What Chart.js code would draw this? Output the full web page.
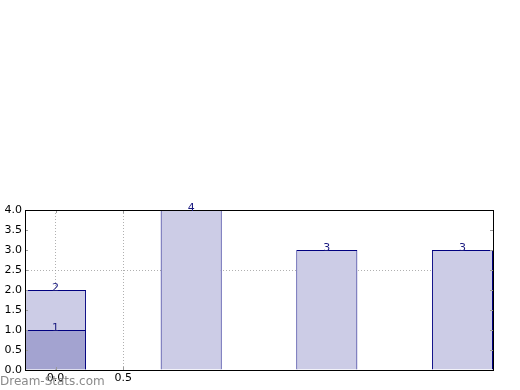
<!DOCTYPE html>
<html><head><meta charset="utf-8">
<script src="https://cdn.jsdelivr.net/npm/chart.js@4/dist/chart.umd.min.js"></script>
<style>html,body{margin:0;padding:0;background:#fff}</style>
</head><body>
<canvas id="c" width="520" height="390" style="display:block;width:520px;height:390px"></canvas>
<script>
const xPositions = [0, 1, 2, 3];
const barValues = [2, 4, 3, 3];
const overlayPositions = [0];
const overlayValues = [1];
const xTickValues = [0, 0.5];
const yTickValues = [0, 0.5, 1, 1.5, 2, 2.5, 3, 3.5, 4];
const xGridValues = [0, 0.5];
const yGridValues = [2.5];
const watermarkText = 'Dream-Stats.com';

const FONT = 'DejaVu Sans';
const gridGray = 'rgba(150,150,150,0.75)';

const overlayPlugin = {
  id: 'overlay',
  afterDraw(chart) {
    const ctx = chart.ctx;
    const a = chart.chartArea;
    const xs = chart.scales.x, ys = chart.scales.y;
    ctx.save();
    // inner tick marks
    ctx.strokeStyle = '#999';
    ctx.lineWidth = 1;
    ctx.beginPath();
    yTickValues.forEach(v => {
      const y = Math.round(ys.getPixelForValue(v)) + 0.5;
      ctx.moveTo(a.left, y); ctx.lineTo(a.left + 3, y);
      ctx.moveTo(a.right, y); ctx.lineTo(a.right - 3, y);
    });
    xTickValues.forEach(v => {
      const x = Math.round(xs.getPixelForValue(v)) + 0.5;
      ctx.moveTo(x, a.bottom); ctx.lineTo(x, a.bottom - 3);
      ctx.moveTo(x, a.top); ctx.lineTo(x, a.top + 3);
    });
    ctx.stroke();
    // frame
    ctx.strokeStyle = '#000';
    ctx.strokeRect(Math.round(a.left) + 0.5, Math.round(a.top) + 0.5,
                   Math.round(a.right - a.left), Math.round(a.bottom - a.top));
    // value labels
    ctx.fillStyle = '#1a1a80';
    ctx.font = '11px ' + FONT;
    ctx.textAlign = 'center';
    ctx.textBaseline = 'alphabetic';
    chart.data.datasets.forEach((ds, di) => {
      const meta = chart.getDatasetMeta(di);
      meta.data.forEach((el, i) => {
        ctx.fillText(String(ds.data[i].y), el.x, el.y + 1);
      });
    });
    // watermark
    ctx.fillStyle = '#8a8a8a';
    ctx.font = '12px ' + FONT;
    ctx.textAlign = 'left';
    ctx.textBaseline = 'alphabetic';
    ctx.fillText(watermarkText, 0, 385);
    ctx.restore();
  }
};

new Chart(document.getElementById('c'), {
  type: 'bar',
  data: {
    datasets: [
      {
        data: overlayPositions.map((x, i) => ({x: x, y: overlayValues[i]})),
        backgroundColor: '#a3a3d0',
        borderColor: '#000080',
        borderWidth: 1,
        grouped: false,
        barPercentage: 0.9,
        categoryPercentage: 1
      },
      {
        data: xPositions.map((x, i) => ({x: x, y: barValues[i]})),
        backgroundColor: '#ccccE6',
        borderColor: '#000080',
        borderWidth: 1,
        grouped: false,
        barPercentage: 0.9,
        categoryPercentage: 1
      }
    ]
  },
  options: {
    responsive: false,
    animation: false,
    devicePixelRatio: 1,
    layout: { padding: { top: 210, right: 27, left: 0, bottom: 0 } },
    plugins: { legend: { display: false }, tooltip: { enabled: false } },
    scales: {
      x: {
        type: 'linear',
        offset: false,
        min: -0.225,
        max: 3.225,
        z: 1,
        afterBuildTicks: s => { s.ticks = xTickValues.map(v => ({value: v})); },
        afterFit: s => { s.height = 20; },
        ticks: { color: '#000', font: { family: FONT, size: 11 }, padding: 2, maxRotation: 0,
                 callback: v => Number(v).toFixed(1) },
        grid: { offset: false, drawTicks: false, tickLength: 0,
                color: c => (c.tick && xGridValues.includes(c.tick.value)) ? gridGray : 'rgba(0,0,0,0)' },
        border: { display: false, dash: [1, 2] }
      },
      y: {
        min: 0,
        max: 4,
        z: 1,
        afterBuildTicks: s => { s.ticks = yTickValues.map(v => ({value: v})); },
        afterFit: s => { s.width = 25; },
        ticks: { color: '#000', font: { family: FONT, size: 11 }, padding: 3,
                 callback: v => Number(v).toFixed(1) },
        grid: { drawTicks: false, tickLength: 0,
                color: c => (c.tick && yGridValues.includes(c.tick.value)) ? gridGray : 'rgba(0,0,0,0)' },
        border: { display: false, dash: [1, 2] }
      }
    }
  },
  plugins: [overlayPlugin]
});
</script>
</body></html>
